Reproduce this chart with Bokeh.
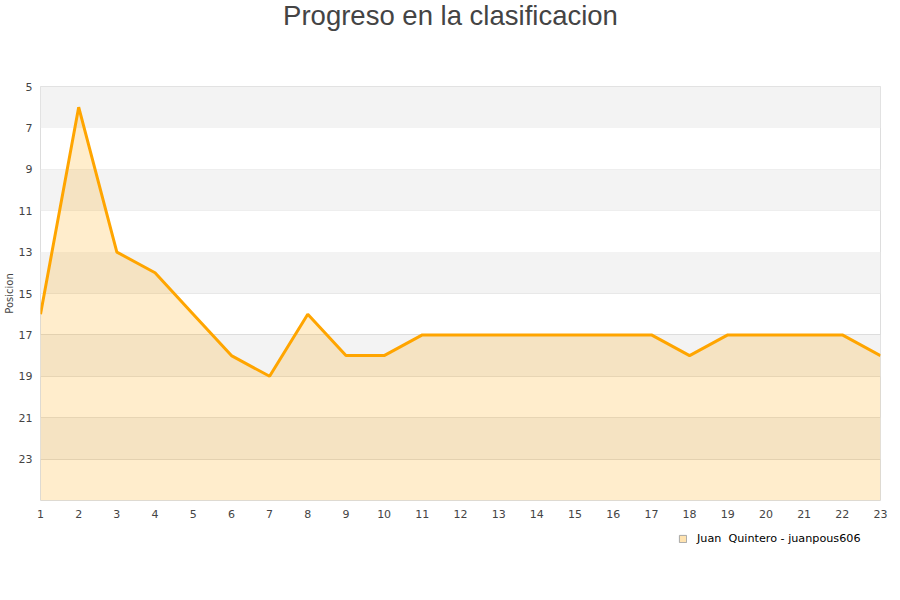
from bokeh.plotting import figure
from bokeh.layouts import column
from bokeh.models import Range1d, FixedTicker, Legend, LegendItem, Label, BoxAnnotation
from bokeh.embed import file_html
from bokeh.resources import INLINE

jornadas = list(range(1, 24))
posicion = [16, 6, 13, 14, 16, 18, 19, 16, 18, 18, 17, 17, 17, 17, 17, 17, 17, 18, 17, 17, 17, 17, 18]
y_ticks = [5, 7, 9, 11, 13, 15, 17, 19, 21, 23]
serie = "Juan  Quintero - juanpous606"
titulo = "Progreso en la clasificacion"

FONT = "DejaVu Sans"
W = 892


def blank(height):
    f = figure(width=W, height=height, output_backend="svg", toolbar_location=None,
               x_range=Range1d(0, 1), y_range=Range1d(0, 1),
               x_axis_location=None, y_axis_location=None,
               min_border_left=0, min_border_right=0, min_border_top=0, min_border_bottom=0)
    f.outline_line_color = None
    f.xgrid.visible = False
    f.ygrid.visible = False
    return f


# ---- title strip ----
TH = 50
pt = blank(TH)
pt.add_layout(Label(x=410, y=TH - 15, x_units="screen", y_units="screen", text=titulo,
                    text_font="Liberation Sans", text_font_size="27.5px", text_color="#444444",
                    text_align="center", text_baseline="alphabetic"))

# ---- main chart ----
p = figure(width=W, height=36 + 414 + 22, output_backend="svg", toolbar_location=None,
           x_range=Range1d(1, 23), y_range=Range1d(25, 5),
           min_border_left=40, min_border_right=12, min_border_top=36, min_border_bottom=22)
p.outline_line_color = "#dddddd"
p.background_fill_color = "white"

for lo, hi in zip(y_ticks[0::2], y_ticks[1::2]):
    p.add_layout(BoxAnnotation(top=lo, bottom=hi, fill_color="#f3f3f3", fill_alpha=1.0,
                               line_color=None, level="underlay"))

area = p.varea(x=jornadas, y1=posicion, y2=25, fill_color="#FFA500", fill_alpha=0.2)
line = p.line(x=jornadas, y=posicion, line_color="#FFA500", line_width=3)

p.xaxis.ticker = FixedTicker(ticks=jornadas)
p.yaxis.ticker = FixedTicker(ticks=y_ticks)
for ax in (p.xaxis[0], p.yaxis[0]):
    ax.axis_line_color = None
    ax.major_tick_line_color = None
    ax.minor_tick_line_color = None
    ax.major_tick_out = 0
    ax.major_tick_in = 0
    ax.major_label_text_font = FONT
    ax.major_label_text_font_size = "11px"
    ax.major_label_text_color = "#444444"
p.xaxis.major_label_standoff = 9
p.yaxis.major_label_standoff = 8
p.yaxis.axis_label = "Posicion"
p.yaxis.axis_label_text_font = FONT
p.yaxis.axis_label_text_font_size = "10px"
p.yaxis.axis_label_text_font_style = "normal"
p.yaxis.axis_label_text_color = "#444444"
p.yaxis.axis_label_standoff = 1

p.xgrid.grid_line_color = None
p.ygrid.grid_line_color = "#dddddd"

# ---- legend strip ----
LH = 40
pl = blank(LH)
# legend key swatch: a single box kept outside the strip's visible range
clave_x = [2, 3]
clave_y = [2, 3]
key = pl.quad(left=[clave_x[0]], right=[clave_x[1]], bottom=[clave_y[0]], top=[clave_y[1]],
              fill_color="#FFE3B0", fill_alpha=1.0, line_color="#a8a8a8", line_width=1)
legend = Legend(items=[LegendItem(label=serie, renderers=[key])],
                location=(638, LH - 23), orientation="horizontal",
                label_text_font=FONT, label_text_font_size="11.2px", label_text_color="#000000",
                glyph_width=9, glyph_height=9, border_line_color=None,
                background_fill_alpha=0, margin=0, padding=4, label_standoff=10)
pl.add_layout(legend)

layout = column(pt, p, pl, spacing=0)
open("out.html", "w").write(file_html(layout, INLINE))
